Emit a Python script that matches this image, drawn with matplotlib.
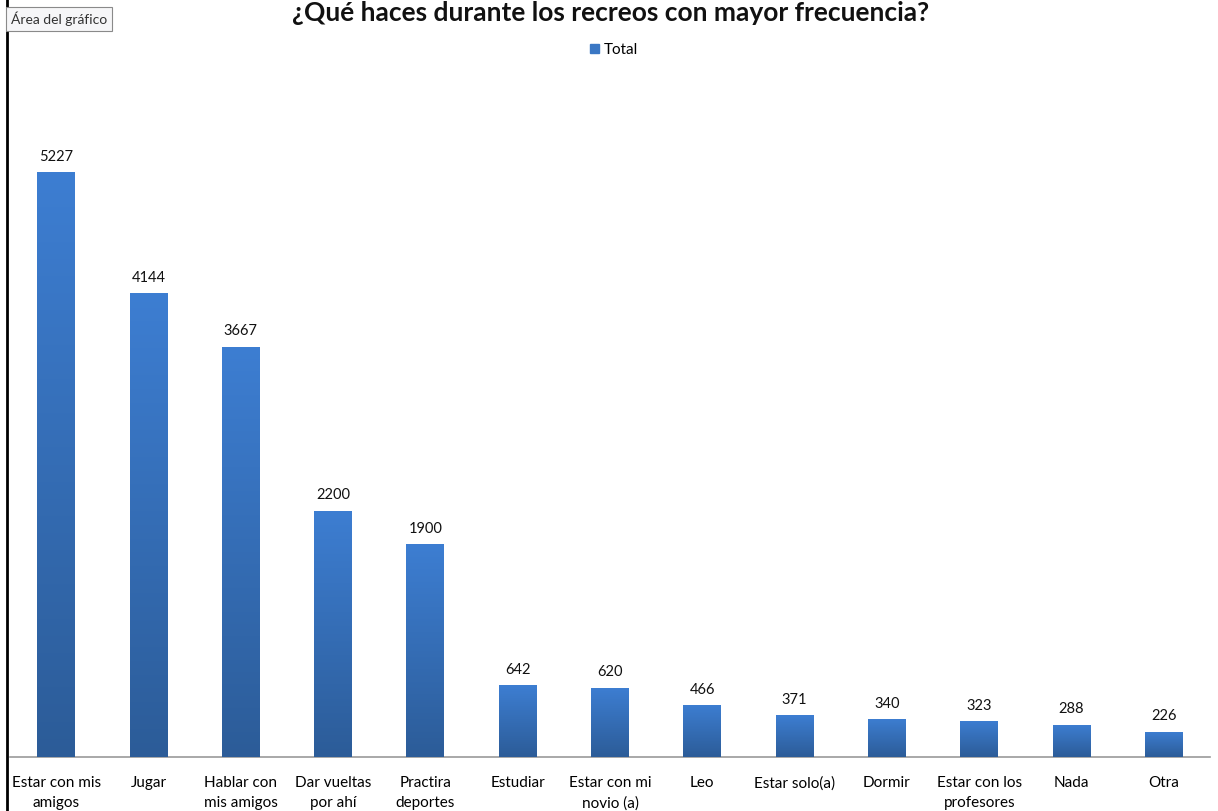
import numpy as np
import matplotlib.pyplot as plt
from matplotlib.colors import LinearSegmentedColormap
from matplotlib.lines import Line2D
from matplotlib.patches import Rectangle

# Data
categories = ["Estar con mis\namigos", "Jugar", "Hablar con\nmis amigos", "Dar vueltas\npor ahí",
              "Practira\ndeportes", "Estudiar", "Estar con mi\nnovio (a)", "Leo", "Estar solo(a)",
              "Dormir", "Estar con los\nprofesores", "Nada", "Otra"]
totals = [5227, 4144, 3667, 2200, 1900, 642, 620, 466, 371, 340, 323, 288, 226]

plt.rcParams['font.family'] = ['Lato', 'DejaVu Sans']

fig = plt.figure(figsize=(12.18, 8.11), dpi=100)
ax = fig.add_axes([10/1218, (811-757)/811, 1200/1218, 657/811])

x = np.arange(len(categories))
bars = ax.bar(x, totals, width=0.41, color='#3a77c4', zorder=2)

# vertical gradient on each bar
grad = LinearSegmentedColormap.from_list('g', ['#2c5c98', '#3d7ed2'])
ax.set_xlim(-0.5, len(categories) - 0.5)
ax.set_ylim(0, 657 / 0.1119)
for b in bars:
    x0, y0 = b.get_x(), b.get_y()
    w, h = b.get_width(), b.get_height()
    im = ax.imshow(np.linspace(0, 1, 256).reshape(-1, 1), cmap=grad, origin='lower',
                   extent=[x0, x0 + w, y0, y0 + h], aspect='auto', zorder=3)
    im.set_clip_path(b)
ax.set_xlim(-0.5, len(categories) - 0.5)
ax.set_ylim(0, 657 / 0.1119)

for xi, v in zip(x, totals):
    ax.annotate(str(v), (xi, v), xytext=(0, 6), textcoords='offset points',
                ha='center', va='bottom', fontsize=10.5, color='#111111')

for s in ['left', 'right', 'top']:
    ax.spines[s].set_visible(False)
ax.spines['bottom'].set_color('#9a9a9a')
ax.spines['bottom'].set_linewidth(1.2)
ax.set_yticks([])
ax.set_xticks(x)
ax.set_xticklabels(categories, fontsize=11, linespacing=1.55)
ax.tick_params(axis='x', length=0, pad=14)

fig.text(611/1218, 1 - 1/811, "¿Qué haces durante los recreos con mayor frecuencia?",
         ha='center', va='top', fontsize=19, fontweight='bold', color='#111111')

handle = Rectangle((0, 0), 1, 1, color='#3a77c4')
fig.legend([handle], ['Total'], loc='center', bbox_to_anchor=(614/1218, 1 - 50/811),
           frameon=False, fontsize=11, handlelength=0.6, handleheight=0.6, handletextpad=0.3)

# tooltip box
fig.text(11/1218, 1 - 19/811, "Área del gráfico", ha='left', va='center', fontsize=10,
         color='#333333',
         bbox=dict(boxstyle='square,pad=0.35', fc='#f6f6f8', ec='#8a8a8a', lw=0.8))

# left border line
fig.add_artist(Line2D([7/1218, 7/1218], [0, 1], color='black', lw=2, transform=fig.transFigure))

fig.savefig('out.png', dpi=100)
